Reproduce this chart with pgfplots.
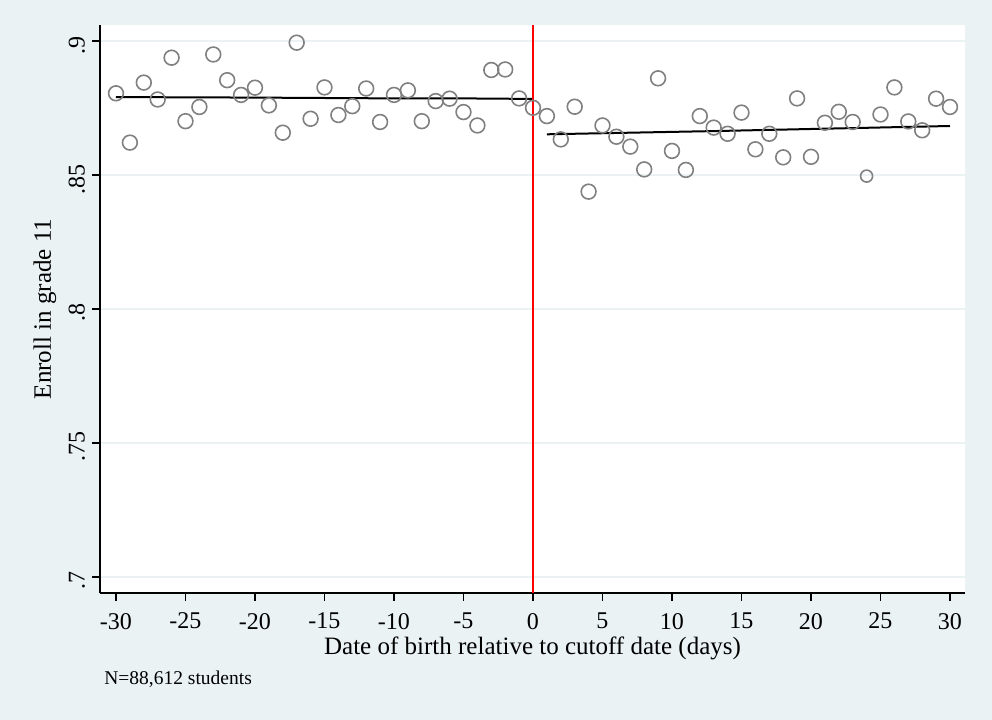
\documentclass[border=0pt]{standalone}
\usepackage{fontspec}
\setmainfont{Liberation Serif}
\usepackage{pgfplots}
\pgfplotsset{compat=1.18}
\usetikzlibrary{backgrounds,calc}

\definecolor{statabg}{RGB}{234,242,243}
\definecolor{markgray}{RGB}{128,128,128}

\begin{document}
\begin{tikzpicture}
\begin{axis}[
  scale only axis, width=432.5pt, height=284pt,
  xmin=-31.15, xmax=31.08, ymin=0.694, ymax=0.906,
  axis lines*=left, axis line style={black, line width=0.6pt},
  axis background/.style={fill=white},
  tick align=outside, major tick length=4pt,
  tick style={black, line width=0.6pt},
  xtick={-30,-25,...,30},
  xticklabels={-30,-25,-20,-15,-10,-5,0,5,10,15,20,25,30},
  ytick={0.7,0.75,0.8,0.85,0.9},
  yticklabels={.7,.75,.8,.85,.9},
  xticklabel style={yshift=-2.5pt},
  yticklabel style={rotate=90, anchor=south, xshift=-2pt},
  ticklabel style={font=\fontsize{12}{14}\selectfont},
  ymajorgrids, grid style={statabg, line width=1pt},
  xlabel={Date of birth relative to cutoff date (days)},
  ylabel={Enroll in grade 11},
  every axis x label/.style={at={(axis description cs:0.5,0)}, yshift=-27.5pt, anchor=center, font=\fontsize{12.5}{15}\selectfont},
  every axis y label/.style={at={(axis description cs:0,0.5)}, xshift=-27.5pt, rotate=90, anchor=center, font=\fontsize{12.5}{15}\selectfont},
  clip=false,
]
% binned means, left of cutoff
\addplot[only marks, mark=o, mark size=3.7pt, markgray, mark options={line width=0.8pt}] coordinates {
 (-30,0.8805)(-29,0.8621)(-28,0.8845)(-27,0.8782)(-26,0.8938)(-25,0.8701)(-24,0.8754)(-23,0.8950)
 (-22,0.8854)(-21,0.8799)(-20,0.8826)(-19,0.8760)(-18,0.8658)(-17,0.8994)(-16,0.8710)(-15,0.8827)
 (-14,0.8724)(-13,0.8757)(-12,0.8823)(-11,0.8698)(-10,0.8799)(-9,0.8816)(-8,0.8701)(-7,0.8776)
 (-6,0.8785)(-5,0.8735)(-4,0.8685)(-3,0.8892)(-2,0.8894)(-1,0.8786)(0,0.8751)};
% binned means, right of cutoff
\addplot[only marks, mark=o, mark size=3.7pt, markgray, mark options={line width=0.8pt}] coordinates {
 (1,0.8720)(2,0.8633)(3,0.8755)(4,0.8438)(5,0.8685)(6,0.8643)(7,0.8606)(8,0.8521)(9,0.8861)
 (10,0.8590)(11,0.8519)(12,0.8720)(13,0.8677)(14,0.8654)(15,0.8733)(16,0.8596)(17,0.8654)
 (18,0.8566)(19,0.8786)(20,0.8568)(21,0.8695)(22,0.8736)(23,0.8698)(25,0.8726)(26,0.8827)
 (27,0.8700)(28,0.8667)(29,0.8785)(30,0.8754)};
\addplot[only marks, mark=o, mark size=3.0pt, markgray, mark options={line width=0.8pt}] coordinates {(24,0.8496)};
% fitted lines
\addplot[black, line width=1pt] coordinates {(-30,0.8791)(-20,0.8789)(-10,0.8786)(-5,0.8786)(0,0.8784)};
\addplot[black, line width=1pt] coordinates {(1,0.8652)(13,0.8664)(30,0.8683)};
% cutoff
\addplot[red, line width=0.8pt] coordinates {(0,0.694)(0,0.906)};
\node[anchor=base west, font=\fontsize{9.75}{11}\selectfont, inner sep=0pt] at ($(axis description cs:0,0)+(2pt,-46pt)$) {N=88,612 students};
\end{axis}
\begin{scope}[on background layer]
\fill[statabg] ($(current axis.south west)+(-50pt,-63.5pt)$) rectangle ($(current axis.north east)+(13.5pt,12.5pt)$);
\end{scope}
\end{tikzpicture}
\end{document}
